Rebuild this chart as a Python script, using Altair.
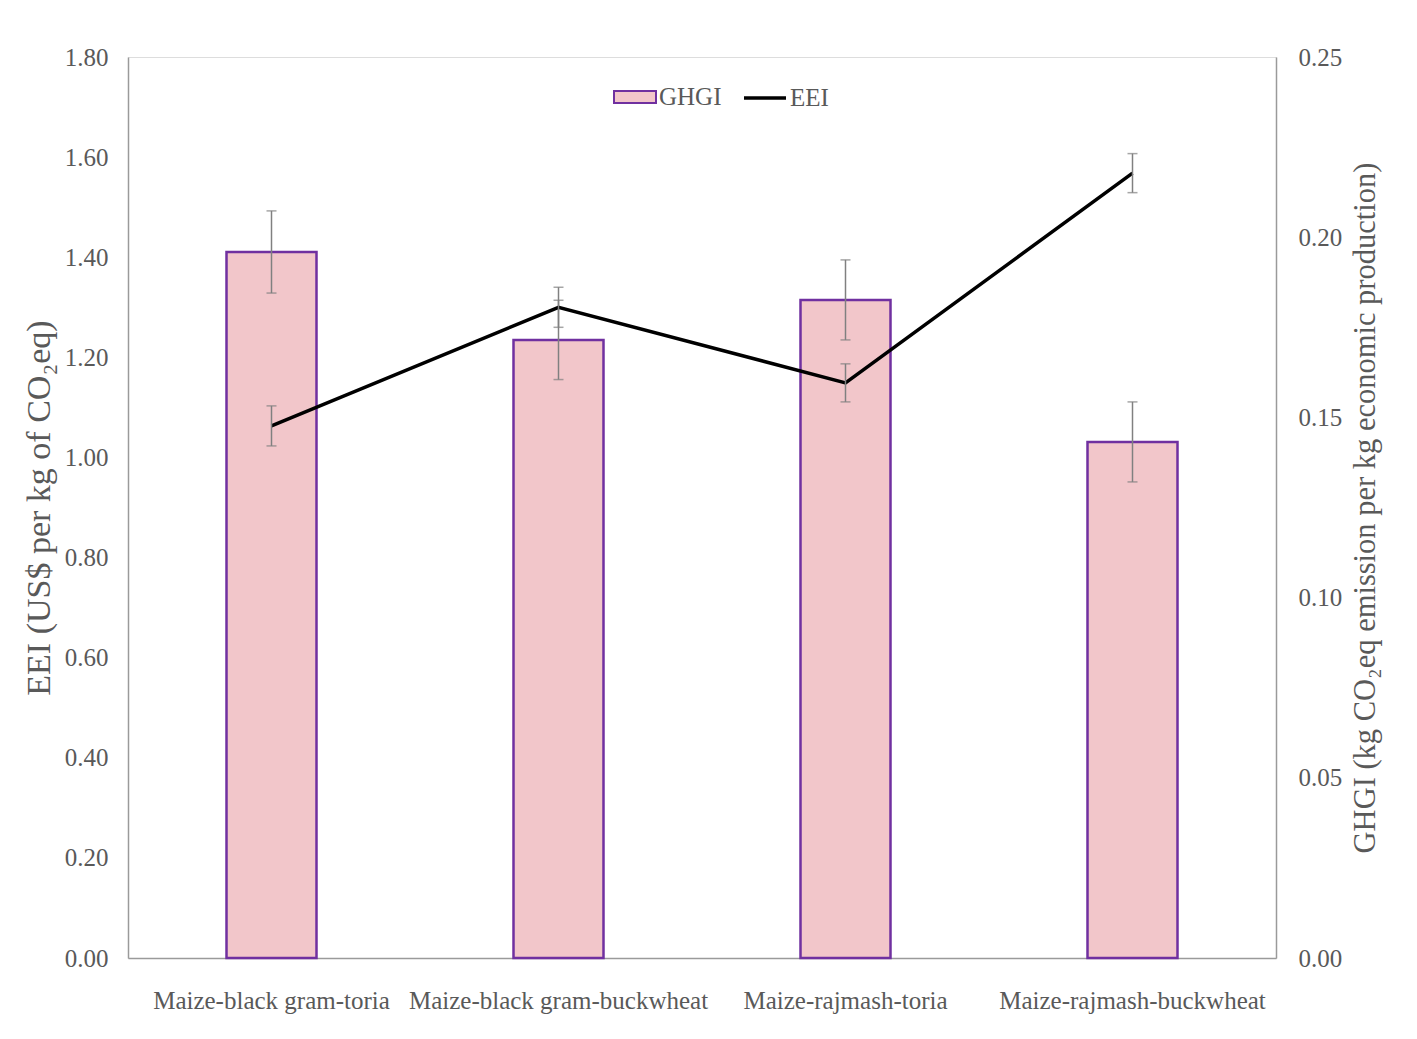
import altair as alt
import pandas as pd

categories = ["Maize-black gram-toria", "Maize-black gram-buckwheat",
              "Maize-rajmash-toria", "Maize-rajmash-buckwheat"]
ghgi = [0.1959, 0.1715, 0.1826, 0.1432]
ghgi_err = [0.0114, 0.0110, 0.0111, 0.0111]
eei = [1.063, 1.300, 1.149, 1.568]
eei_err = [0.040, 0.040, 0.038, 0.039]
eei_ticks = [0.0, 0.2, 0.4, 0.6, 0.8, 1.0, 1.2, 1.4, 1.6, 1.8]
ghgi_ticks = [0.0, 0.05, 0.10, 0.15, 0.20, 0.25]

df = pd.DataFrame({"cat": categories, "ghgi": ghgi, "ghgi_err": ghgi_err,
                   "eei": eei, "eei_err": eei_err})

FONT = "Liberation Serif"
TXT = "#595959"
AXC = "#9a9a9a"
PINK = "#f2c6ca"
PURPLE = "#7030a0"
ERRC = "#808080"

xenc = alt.X("cat:N", sort=categories,
             scale=alt.Scale(paddingInner=0, paddingOuter=0),
             axis=alt.Axis(title=None, labelAngle=0, ticks=False, grid=False,
                           labelFont=FONT, labelFontSize=25, labelColor=TXT,
                           labelLimit=0, labelPadding=30, domainColor=AXC,
                           domainWidth=1.5))

left_axis = alt.Axis(title="EEI (US$ per kg of CO₂eq)", orient="left",
                     values=eei_ticks, format=".2f", ticks=False, grid=False,
                     labelFont=FONT, labelFontSize=25, labelColor=TXT,
                     labelPadding=20, domainColor=AXC, domainWidth=1.5,
                     titleFont=FONT, titleFontSize=34, titleColor=TXT,
                     titleFontWeight="normal", titlePadding=8)
right_axis = alt.Axis(title="GHGI (kg CO₂eq emission per kg economic production)",
                      orient="right", values=ghgi_ticks, format=".2f",
                      ticks=False, grid=False,
                      labelFont=FONT, labelFontSize=25, labelColor=TXT,
                      labelPadding=22, domainColor=AXC, domainWidth=1.5,
                      titleFont=FONT, titleFontSize=30.5, titleColor=TXT,
                      titleFontWeight="normal", titleAngle=270,
                      titleBaseline="top", titlePadding=9)

lscale = alt.Scale(domain=[0, 1.8], nice=False, zero=True)
rscale = alt.Scale(domain=[0, 0.25], nice=False, zero=True)

base = alt.Chart(df).transform_calculate(
    g_lo="datum.ghgi - datum.ghgi_err",
    g_hi="datum.ghgi + datum.ghgi_err",
    e_lo="datum.eei - datum.eei_err",
    e_hi="datum.eei + datum.eei_err",
    s1="'GHGI'",
    s2="'EEI'",
)

bars = base.mark_bar(width=90, stroke=PURPLE, strokeWidth=2.5).encode(
    x=xenc,
    y=alt.Y("ghgi:Q", scale=rscale, axis=right_axis),
    fill=alt.Fill("s1:N", scale=alt.Scale(domain=["GHGI"], range=[PINK]),
                  legend=alt.Legend(title=None, orient="none", legendX=485,
                                    legendY=18, symbolType="M-1,-0.28H1V0.28H-1Z",
                                    symbolSize=1764, symbolStrokeColor=PURPLE,
                                    symbolStrokeWidth=2, labelFont=FONT,
                                    labelFontSize=25, labelColor=TXT,
                                    labelOffset=2, padding=0)),
)
g_rule = base.mark_rule(color=ERRC, strokeWidth=1.5).encode(
    x=xenc, y=alt.Y("g_lo:Q", scale=rscale, axis=right_axis), y2="g_hi:Q")
g_tick_lo = base.mark_tick(color=ERRC, size=10, thickness=1.5, orient="horizontal").encode(
    x=xenc, y=alt.Y("g_lo:Q", scale=rscale, axis=right_axis))
g_tick_hi = base.mark_tick(color=ERRC, size=10, thickness=1.5, orient="horizontal").encode(
    x=xenc, y=alt.Y("g_hi:Q", scale=rscale, axis=right_axis))

line = base.mark_line(strokeWidth=3.5).encode(
    x=xenc,
    y=alt.Y("eei:Q", scale=lscale, axis=left_axis),
    stroke=alt.Stroke("s2:N", scale=alt.Scale(domain=["EEI"], range=["#000000"]),
                      legend=alt.Legend(title=None, orient="none", legendX=614,
                                        legendY=18, symbolType="stroke",
                                        symbolSize=1764, symbolStrokeWidth=3.5,
                                        labelFont=FONT, labelFontSize=25,
                                        labelColor=TXT, labelOffset=2, padding=0)),
)
e_rule = base.mark_rule(color=ERRC, strokeWidth=1.5).encode(
    x=xenc, y=alt.Y("e_lo:Q", scale=lscale, axis=left_axis), y2="e_hi:Q")
e_tick_lo = base.mark_tick(color=ERRC, size=10, thickness=1.5, orient="horizontal").encode(
    x=xenc, y=alt.Y("e_lo:Q", scale=lscale, axis=left_axis))
e_tick_hi = base.mark_tick(color=ERRC, size=10, thickness=1.5, orient="horizontal").encode(
    x=xenc, y=alt.Y("e_hi:Q", scale=lscale, axis=left_axis))

right_group = alt.layer(bars, g_rule, g_tick_lo, g_tick_hi)
left_group = alt.layer(line, e_rule, e_tick_lo, e_tick_hi)

chart = alt.layer(right_group, left_group).resolve_scale(
    y="independent"
).properties(
    width=1148, height=901,
    autosize=alt.AutoSizeParams(type="none"),
    padding={"left": 120, "top": 49, "right": 130, "bottom": 70},
).configure_view(
    stroke=AXC, strokeWidth=1.5
).configure(background="white")

chart.save("out.html", embed_options={"renderer": "svg", "actions": False})
